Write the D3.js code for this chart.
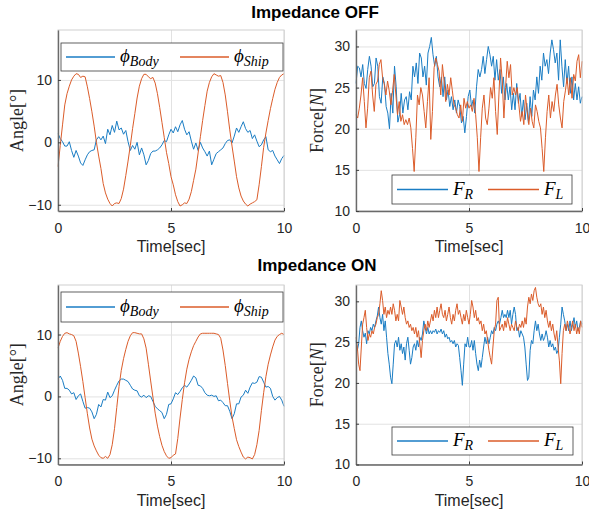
<!DOCTYPE html>
<html>
<head>
<meta charset="utf-8">
<script src="https://cdn.jsdelivr.net/npm/d3@7/dist/d3.min.js"></script>
<style>
    body { margin: 0; background: #fff; }
    svg { display: block; font-family: "Liberation Sans", Arial, sans-serif; }
    .grid line { stroke: #e2e2e2; stroke-width: 1; }
    .axis text { font-size: 14px; fill: #262626; }
    .axis line { stroke: #404040; }
    .title { font-size: 17px; font-weight: bold; fill: #000; }
    .xlabel { font-size: 16px; fill: #262626; }
    .ylabel { font-family: "Liberation Serif", "DejaVu Serif", serif; font-size: 18px; fill: #262626; }
    .legend-text { font-family: "Liberation Serif", "DejaVu Serif", serif; font-style: italic; fill: #000; }
</style>
</head>
<body>
<svg id="chart" width="589" height="518"></svg>
<script>
// ---- data ----
const duration = 10;                 // seconds, every series spans 0..10 s
const timeTicks = [0, 5, 10];
const angleTicks = [-10, 0, 10];
const forceTicks = [10, 15, 20, 25, 30];
const angleDomain = [-11, 18];
const forceDomain = [10, 32];

// angles, sampled every 0.1 s
const shipOff = [
    -3.9, -0.5, 2.8, 6.0, 7.8, 9.0, 10.0, 10.6, 11.0, 10.9,
    10.4, 10.6, 10.5, 8.9, 7.0, 4.9, 2.6, 0.0, -2.2, -4.2,
    -6.6, -8.1, -9.1, -9.8, -10.2, -9.8, -9.7, -9.8, -9.0, -7.5,
    -5.3, -3.0, -0.5, 2.2, 4.6, 7.1, 9.0, 10.2, 10.9, 10.9,
    10.5, 10.2, 10.4, 9.5, 7.8, 5.6, 3.2, 0.8, -1.6, -3.4,
    -5.5, -6.8, -8.4, -9.5, -10.2, -10.0, -9.7, -9.8, -9.1, -7.9,
    -6.1, -4.3, -1.7, 0.9, 3.5, 5.9, 8.2, 9.6, 10.5, 11.0,
    10.8, 10.6, 10.7, 9.6, 7.6, 4.9, 2.0, -0.6, -3.0, -5.5,
    -7.3, -8.6, -9.4, -9.9, -10.2, -9.9, -9.7, -9.5, -9.2, -6.8,
    -3.9, -0.8, 1.5, 3.5, 5.4, 7.0, 8.5, 9.6, 10.4, 10.8,
    11.0
];
const bodyOff = [
    1.4, 0.6, 0.1, -0.6, -0.6, 0.1, -1.3, -2.4, -1.3, -2.2,
    -3.3, -3.7, -2.8, -2.0, -1.5, -1.3, -1.2, 0.4, 0.9, 0.4,
    1.0, -0.2, 2.1, 1.2, 2.7, 1.6, 3.4, 2.0, 2.3, 1.3,
    1.9, 0.1, -1.3, -0.5, -1.1, 0.0, -2.0, -0.9, -2.0, -3.6,
    -2.9, -1.8, -1.4, -1.4, -1.2, -0.9, -0.4, 0.3, 0.1, 1.2,
    2.1, 1.5, 2.5, 1.7, 2.8, 3.5, 2.1, 1.2, 1.7, 0.2,
    -1.1, -0.1, -1.3, 0.0, -0.9, -1.5, -2.2, -1.4, -3.6, -2.7,
    -1.8, -1.5, -1.2, -0.9, -0.2, 0.3, 0.4, -0.1, 1.0, 2.3,
    1.6, 2.5, 3.3, 2.2, 1.6, 1.9, 0.6, 1.2, 0.2, -0.7,
    -0.4, 0.4, 0.9, -1.2, -1.5, -1.3, -2.2, -2.8, -3.4, -2.6,
    -2.1
];
const shipOn = [
    7.8, 8.9, 9.7, 10.2, 10.3, 10.1, 10.0, 9.8, 8.9, 7.0,
    4.8, 2.4, -0.2, -2.8, -5.1, -6.9, -8.0, -8.8, -9.5, -9.9,
    -10.0, -9.7, -10.0, -9.4, -7.8, -5.2, -1.8, 1.6, 4.2, 6.1,
    7.6, 8.9, 9.8, 10.3, 10.3, 10.2, 10.1, 10.1, 9.3, 7.8,
    5.2, 2.5, -0.1, -2.7, -4.8, -6.5, -7.9, -8.9, -9.6, -10.0,
    -9.9, -9.5, -9.3, -6.8, -3.5, -0.5, 2.2, 4.4, 6.0, 7.2,
    8.2, 8.9, 9.6, 10.1, 10.2, 10.2, 10.2, 10.2, 10.2, 10.2,
    10.1, 10.0, 9.4, 7.5, 5.0, 2.1, -0.7, -3.3, -5.2, -7.0,
    -8.1, -9.0, -9.8, -10.1, -9.8, -9.9, -10.1, -9.4, -7.8, -5.5,
    -2.3, 0.6, 3.2, 5.2, 6.7, 8.0, 9.1, 9.7, 10.0, 10.2,
    10.0
];
const bodyOn = [
    2.8, 3.3, 2.6, 1.3, 1.3, 1.0, 0.4, 0.6, -0.5, 0.1,
    0.4, -0.8, -1.9, -1.8, -1.9, -2.5, -3.6, -2.9, -1.3, -1.7,
    -0.5, -0.6, 0.7, -0.2, 0.1, 1.0, 1.8, 2.5, 2.8, 2.8,
    2.6, 2.4, 1.8, 1.2, 1.0, 0.9, 0.1, -0.1, 0.2, -0.2,
    0.1, 0.0, -0.8, -1.6, -2.0, -2.3, -2.6, -3.6, -2.9, -1.3,
    -1.2, -0.4, 0.6, 0.3, 0.8, 1.4, 1.8, 1.5, 2.0, 2.6,
    3.3, 3.0, 1.8, 1.7, 1.3, 0.6, 0.2, 0.1, 0.2, 0.0,
    0.1, -0.7, -0.6, -1.0, -1.5, -1.5, -2.4, -3.6, -2.8, -1.2,
    -1.2, -0.1, 0.2, 1.0, 0.5, 1.5, 2.2, 2.1, 2.3, 3.2,
    3.1, 2.3, 1.5, 1.6, 1.3, 0.0, -0.6, -0.2, 0.0, -0.6,
    -1.6
];

// forces, evenly spaced samples over 0..10 s
const forceRightOff = [
    25.5, 27.6, 27.4, 26.3, 27.8, 25.5, 24.9, 27.2, 28.8, 27.6,
    25.1, 25.5, 28.6, 27.6, 23.9, 23.1, 26.3, 25.5, 22.7, 21.9,
    20.0, 24.3, 21.9, 27.6, 25.1, 20.8, 21.7, 24.3, 21.9, 23.5,
    23.9, 22.3, 24.5, 23.5, 27.6, 26.3, 28.0, 25.5, 29.2, 28.6,
    26.3, 27.6, 25.3, 29.2, 30.0, 31.1, 29.0, 27.6, 28.8, 26.3,
    25.1, 26.3, 23.9, 26.3, 23.5, 24.7, 22.7, 23.9, 22.3, 23.5,
    21.9, 23.5, 22.7, 20.7, 21.5, 19.5, 21.5, 23.9, 24.7, 22.7,
    23.5, 21.9, 25.1, 27.2, 26.3, 27.2, 28.8, 26.7, 28.4, 30.0,
    29.0, 27.6, 28.8, 25.9, 28.4, 25.9, 27.2, 24.3, 26.3, 23.5,
    25.5, 23.5, 25.1, 22.3, 24.3, 22.3, 25.5, 23.1, 24.3, 21.5,
    23.5, 21.1, 23.1, 20.7, 23.9, 21.5, 24.7, 23.5, 26.3, 24.3,
    27.6, 25.9, 29.2, 27.6, 28.4, 26.7, 29.2, 30.8, 29.6, 28.0,
    29.2, 25.9, 30.8, 27.6, 25.1, 28.4, 25.5, 27.6, 24.3, 26.3,
    23.5, 25.5, 23.5, 25.1, 23.1, 23.9
];
const forceLeftOff = [
    21.7, 21.3, 22.5, 24.1, 26.2, 23.3, 20.1, 22.5, 26.2, 27.0,
    24.1, 22.1, 25.4, 25.8, 27.8, 28.4, 26.2, 25.4, 24.1, 25.8,
    24.6, 22.9, 24.6, 26.6, 24.1, 21.7, 23.3, 20.9, 21.7, 20.5,
    21.1, 20.5, 21.3, 20.1, 17.6, 14.8, 18.9, 24.1, 22.9, 25.0,
    24.1, 22.1, 20.1, 23.3, 26.2, 18.7, 22.1, 27.4, 28.6, 27.8,
    27.0, 24.1, 27.8, 25.8, 23.3, 25.4, 24.1, 26.2, 24.6, 22.9,
    22.5, 21.7, 21.3, 22.9, 20.9, 23.7, 22.5, 23.3, 22.5,
    22.9, 22.1, 23.7, 21.7, 18.9, 14.8, 18.9, 22.5, 24.1, 21.3,
    20.5, 22.5, 25.0, 23.7, 26.2, 22.1, 19.3, 24.1, 28.6, 25.8,
    21.3, 25.0, 28.2, 26.2, 27.8, 24.1, 25.0, 24.1, 25.0, 22.9,
    20.9, 22.1, 20.5, 24.1, 22.1, 20.5, 22.5, 20.9, 20.1, 22.9,
    22.1, 20.9, 20.1, 17.6, 14.8, 18.9, 22.1, 24.1, 21.3, 23.3,
    22.1, 24.1, 25.4, 22.9, 21.3, 20.1, 23.3, 24.6, 26.2, 24.1,
    26.2, 23.7, 26.6, 25.8, 28.2, 29.0, 26.2, 28.2
];
const forceRightOn = [
    25.2, 24.0, 24.8, 26.8, 27.6, 26.4, 25.6, 26.1, 24.8, 26.4,
    26.0, 26.8, 26.4, 27.2, 26.8, 27.6, 28.2, 29.3, 28.0, 27.2,
    28.4, 26.4, 27.6, 25.6, 23.6, 22.3, 20.7, 19.9, 22.3, 24.8,
    25.2, 24.4, 25.6, 24.0, 24.8, 23.6, 24.4, 22.8, 24.8, 25.6,
    24.0, 22.3, 23.1, 24.4, 24.8, 24.0, 25.2, 24.4, 25.6, 25.2,
    26.0, 27.6, 26.8, 26.0, 26.8, 26.0, 26.4, 26.0, 26.4, 26.2,
    26.6, 26.0, 26.4, 26.2, 26.6, 26.0, 26.4, 25.6, 26.0, 25.4,
    25.6, 25.0, 25.2, 24.8, 25.2, 24.4, 24.8, 24.6, 23.1, 21.5,
    19.7, 22.3, 24.8, 24.4, 25.6, 24.4,
    24.4, 25.2, 24.0, 25.2, 23.6, 22.3, 21.5, 22.8, 21.9, 23.1,
    24.4, 25.6, 24.8, 25.6, 24.8, 25.6, 26.4, 26.0, 26.8, 26.4,
    27.2, 27.6, 27.2, 28.0, 28.9, 28.0, 28.4, 28.0, 28.9, 28.0,
    28.9, 27.2, 28.4, 29.3, 28.4, 26.4, 26.8, 25.6, 26.4, 26.0,
    25.6, 24.4, 22.3, 20.3, 20.7, 24.0, 25.2, 24.8, 26.4, 27.6,
    26.4, 27.2, 26.0, 25.2, 26.0, 25.2, 25.6, 26.4, 25.6, 24.4,
    25.2, 24.4, 24.8, 24.0, 24.4, 23.6, 24.0, 25.6, 27.2, 29.3,
    28.4, 27.6, 26.4, 27.2, 26.4, 27.6, 26.4, 27.2, 28.0, 26.8,
    27.6, 26.4, 26.8, 27.6, 27.2
];
const forceLeftOn = [
    25.6, 24.4, 22.3, 21.5, 24.4, 27.2, 28.0, 28.9, 26.8, 25.2,
    26.0, 25.6, 26.4, 26.0, 26.8, 27.2, 28.0, 28.4, 29.7, 31.3,
    30.1, 28.4, 29.3, 28.0, 28.9, 28.4, 29.3, 28.4, 29.7, 28.9,
    27.6, 28.4, 27.6, 30.1, 29.3, 28.4, 29.3, 28.0, 27.2, 27.6,
    26.8, 27.2, 26.4, 26.8, 26.0, 26.8, 25.6, 26.4, 24.8, 23.1,
    25.2, 26.4, 27.2, 26.4, 27.6, 26.8, 27.6, 28.4, 27.6, 28.9,
    28.0, 29.3, 28.0, 28.9, 29.7, 28.4, 28.0, 28.9, 27.6, 28.4,
    29.3, 28.0, 27.2, 28.4, 27.6, 28.9, 29.7, 28.4, 28.9, 28.0,
    27.2, 28.4, 27.6, 28.9, 28.0, 27.2,
    28.4, 30.1, 29.3, 28.0, 28.9, 27.6, 28.0, 27.2, 27.6, 26.4,
    27.2, 26.0, 26.4, 25.2, 24.0, 23.1, 22.3, 24.4, 26.4, 27.2,
    30.1, 30.5, 26.4, 26.8, 27.2, 26.4, 27.6, 26.8, 28.0, 27.2,
    26.4, 27.2, 26.8, 26.4, 27.6, 26.8, 26.4, 27.2, 26.8, 27.6,
    26.8, 28.0, 27.2, 29.3, 30.5, 29.7, 30.9, 30.1, 31.3, 31.7,
    30.5, 29.7, 29.3, 29.7, 28.4, 29.3, 28.0, 28.9, 27.6, 26.8,
    27.6, 26.4, 27.2, 26.0, 25.2, 26.4, 24.4, 22.7, 19.9, 23.6,
    26.4, 27.2, 26.4, 27.6, 26.8, 26.0, 26.8, 27.6, 26.4, 27.2,
    26.0, 26.8, 26.0, 27.6, 26.8
];

// ---- layout ----
const blue = "#1a7dc4";
const orange = "#db5c2a";

const svg = d3.select("#chart");

const angleLegend = [
    {offset: 5, main: "\u03D5", sub: "Body", color: blue},
    {offset: 119, main: "\u03D5", sub: "Ship", color: orange}
];
const forceLegend = [
    {offset: 5, main: "F", sub: "R", color: blue},
    {offset: 96, main: "F", sub: "L", color: orange}
];

const panels = [
    {left: 58, top: 30, width: 226, height: 181, domain: angleDomain, ticks: angleTicks,
        series: [bodyOff, shipOff], ylabel: "angle",
        legend: {x: 3, y: 13, w: 222, h: 28, entries: angleLegend, lineLength: 49}},
    {left: 356, top: 30, width: 226, height: 181, domain: forceDomain, ticks: forceTicks,
        series: [forceRightOff, forceLeftOff], ylabel: "force",
        legend: {x: 36, y: 145, w: 180, h: 29, entries: forceLegend, lineLength: 51}},
    {left: 58, top: 285, width: 226, height: 179.5, domain: angleDomain, ticks: angleTicks,
        series: [bodyOn, shipOn], ylabel: "angle",
        legend: {x: 3, y: 7, w: 222, h: 30, entries: angleLegend, lineLength: 49}},
    {left: 356, top: 285, width: 226, height: 179.5, domain: forceDomain, ticks: forceTicks,
        series: [forceRightOn, forceLeftOn], ylabel: "force",
        legend: {x: 36, y: 142, w: 181, h: 28, entries: forceLegend, lineLength: 51}}
];

svg.append("text")
    .attr("class", "title")
    .attr("x", 315)
    .attr("y", 18)
    .attr("text-anchor", "middle")
    .text("Impedance OFF");

svg.append("text")
    .attr("class", "title")
    .attr("x", 317)
    .attr("y", 271)
    .attr("text-anchor", "middle")
    .text("Impedance ON");

panels.forEach(drawPanel);

function drawPanel(p) {
    const g = svg.append("g")
        .attr("transform", `translate(${p.left}, ${p.top})`);

    const x = d3.scaleLinear().domain([0, duration]).range([0, p.width]);
    const y = d3.scaleLinear().domain(p.domain).range([p.height, 0]);

    // grid lines
    g.append("g")
        .attr("class", "grid")
        .attr("transform", `translate(0, ${p.height})`)
        .call(d3.axisBottom(x).tickValues(timeTicks).tickSize(-p.height).tickFormat(""))
        .call(a => a.select(".domain").remove());
    g.append("g")
        .attr("class", "grid")
        .call(d3.axisLeft(y).tickValues(p.ticks).tickSize(-p.width).tickFormat(""))
        .call(a => a.select(".domain").remove());

    // data
    const line = d3.line()
        .x((d, i, data) => x(i * duration / (data.length - 1)))
        .y(d => y(d));
    [blue, orange].forEach((color, k) => {
        g.append("path")
            .datum(p.series[k])
            .attr("fill", "none")
            .attr("stroke", color)
            .attr("stroke-width", 1)
            .attr("stroke-linejoin", "round")
            .attr("d", line);
    });

    // box: light top/right, darker left/bottom like the matlab screenshot
    g.append("rect")
        .attr("width", p.width)
        .attr("height", p.height)
        .attr("fill", "none")
        .attr("stroke", "#cfcfcf")
        .attr("stroke-width", 1);

    g.append("g")
        .attr("class", "axis")
        .attr("transform", `translate(0, ${p.height})`)
        .call(d3.axisBottom(x).tickValues(timeTicks).tickSizeInner(-3).tickSizeOuter(0).tickPadding(12))
        .call(a => a.select(".domain").attr("stroke", "#6a6a6a").attr("stroke-width", 1.4));
    g.append("g")
        .attr("class", "axis")
        .call(d3.axisLeft(y).tickValues(p.ticks).tickSizeInner(-3).tickSizeOuter(0).tickPadding(6))
        .call(a => a.select(".domain").attr("stroke", "#6a6a6a").attr("stroke-width", 1.4));

    g.append("text")
        .attr("class", "xlabel")
        .attr("x", p.width / 2)
        .attr("y", p.height + 41)
        .attr("text-anchor", "middle")
        .text("Time[sec]");

    const ylab = g.append("text")
        .attr("class", "ylabel")
        .attr("transform", `translate(${p.left < 100 ? -41 : -39}, ${p.height / 2}) rotate(-90)`)
        .attr("text-anchor", "middle")
        .attr("dy", "0.35em");
    if (p.ylabel === "angle") {
        ylab.text("Angle[\u00B0]");
    } else {
        ylab.append("tspan").text("Force[");
        ylab.append("tspan").attr("font-style", "italic").text("N");
        ylab.append("tspan").text("]");
    }

    drawLegend(g, p.legend);
}

function drawLegend(g, lg) {
    const box = g.append("g")
        .attr("transform", `translate(${lg.x}, ${lg.y})`);
    box.append("rect")
        .attr("width", lg.w)
        .attr("height", lg.h)
        .attr("fill", "#fff")
        .attr("stroke", "#3a3a3a")
        .attr("stroke-width", 0.8);

    const mid = lg.h / 2;
    lg.entries.forEach(e => {
        box.append("line")
            .attr("x1", e.offset)
            .attr("x2", e.offset + lg.lineLength)
            .attr("y1", mid)
            .attr("y2", mid)
            .attr("stroke", e.color)
            .attr("stroke-width", 1.4);
        const t = box.append("text")
            .attr("class", "legend-text")
            .attr("x", e.offset + lg.lineLength + 5)
            .attr("y", mid + 5)
            .attr("font-size", 19);
        t.append("tspan").text(e.main);
        t.append("tspan")
            .attr("font-size", 14)
            .attr("dy", 4)
            .text(e.sub);
    });
}
</script>
</body>
</html>
